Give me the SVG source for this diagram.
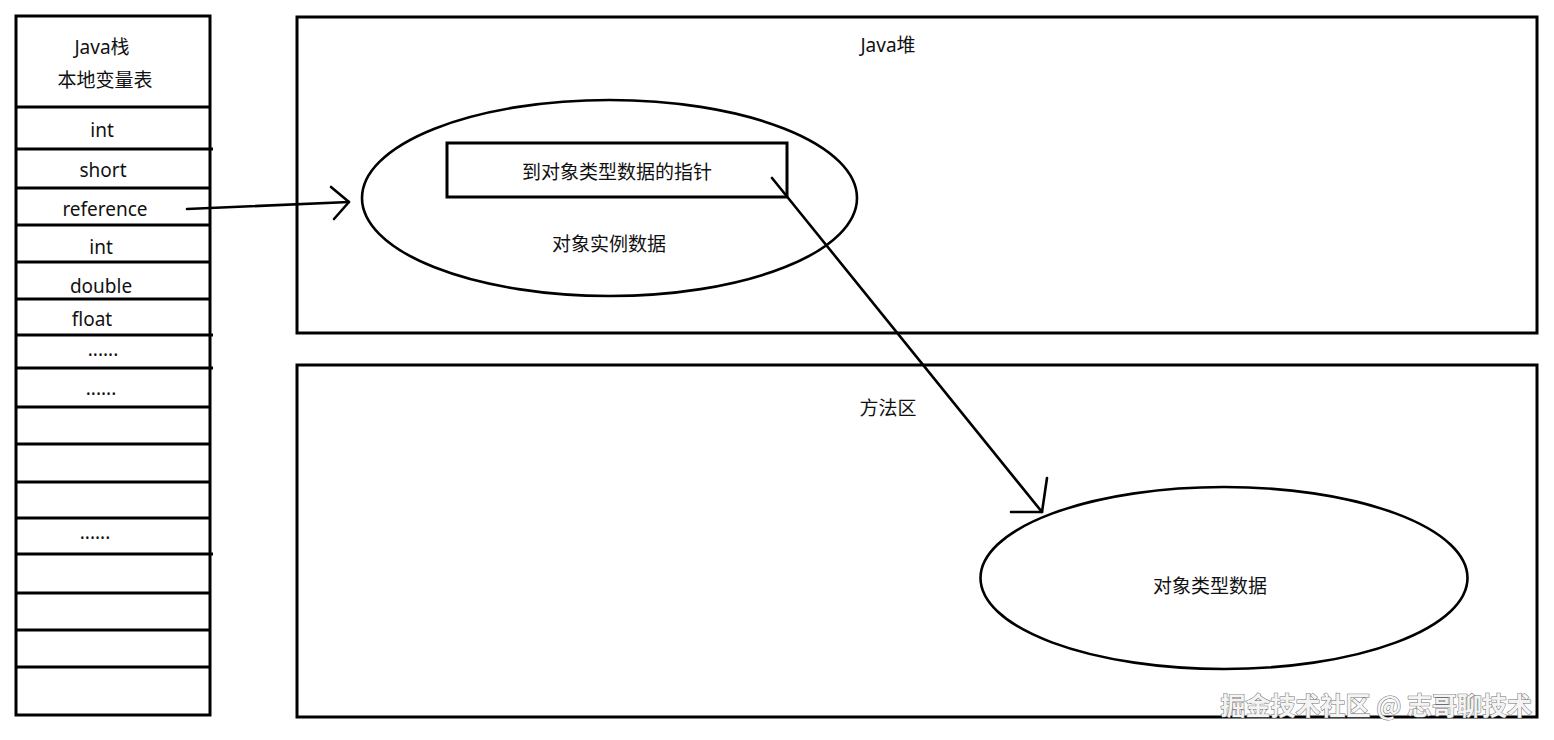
<svg xmlns="http://www.w3.org/2000/svg" width="1554" height="740" viewBox="0 0 1554 740">
<style>
  .box{fill:none;stroke:#000;stroke-width:3}
  .row{stroke:#000;stroke-width:3}
  .shape{fill:none;stroke:#000;stroke-width:2.6}
  .t{font-family:"Noto Sans","Noto Sans CJK SC",sans-serif;font-size:19px;fill:#111;text-anchor:middle;dominant-baseline:central}
  .edge{fill:none;stroke:#000;stroke-width:2.6;stroke-linecap:round;stroke-linejoin:round}
  .wm{font-family:"Noto Sans CJK SC","Noto Sans",sans-serif;font-size:25px;font-weight:bold;fill:#f4f4f4;stroke:#6e6e6e;stroke-width:1;paint-order:stroke;text-anchor:end;dominant-baseline:central}
</style>
<rect width="1554" height="740" fill="#fff"/>
<g id="java-stack">
  <rect class="box" x="16" y="16" width="194" height="699"/>
  <line class="row" x1="16" y1="107" x2="210" y2="107"/>
  <line class="row" x1="16" y1="149" x2="213" y2="149"/>
  <line class="row" x1="16" y1="188" x2="210" y2="188"/>
  <line class="row" x1="16" y1="225" x2="210" y2="225"/>
  <line class="row" x1="16" y1="262" x2="210" y2="262"/>
  <line class="row" x1="16" y1="299" x2="210" y2="299"/>
  <line class="row" x1="16" y1="335" x2="213" y2="335"/>
  <line class="row" x1="16" y1="368" x2="213" y2="368"/>
  <line class="row" x1="16" y1="407" x2="210" y2="407"/>
  <line class="row" x1="16" y1="444" x2="210" y2="444"/>
  <line class="row" x1="16" y1="482" x2="210" y2="482"/>
  <line class="row" x1="16" y1="518" x2="210" y2="518"/>
  <line class="row" x1="16" y1="554" x2="213" y2="554"/>
  <line class="row" x1="16" y1="593" x2="210" y2="593"/>
  <line class="row" x1="16" y1="630" x2="210" y2="630"/>
  <line class="row" x1="16" y1="667" x2="210" y2="667"/>
  <text class="t" x="102" y="47">Java栈</text>
  <text class="t" x="105" y="80">本地变量表</text>
  <text class="t" x="102" y="130">int</text>
  <text class="t" x="103" y="170">short</text>
  <text class="t" x="105" y="209">reference</text>
  <text class="t" x="101" y="247">int</text>
  <text class="t" x="101" y="286">double</text>
  <text class="t" x="92" y="319">float</text>
  <text class="t" x="103" y="349">......</text>
  <text class="t" x="101" y="388">......</text>
  <text class="t" x="95" y="532">......</text>
</g>
<g id="java-heap">
  <rect class="box" x="297" y="17" width="1240" height="316"/>
  <text class="t" x="888" y="45">Java堆</text>
</g>
<g id="object-instance">
  <ellipse class="shape" cx="609.5" cy="198" rx="247.5" ry="98"/>
  <text class="t" x="609" y="244">对象实例数据</text>
</g>
<g id="type-pointer">
  <rect class="box" x="447" y="143" width="340" height="54"/>
  <text class="t" x="617" y="172">到对象类型数据的指针</text>
</g>
<g id="method-area">
  <rect class="box" x="297" y="365" width="1240" height="352"/>
  <text class="t" x="888" y="408">方法区</text>
</g>
<g id="object-type-data">
  <ellipse class="shape" cx="1224" cy="578" rx="243.5" ry="91"/>
  <text class="t" x="1210" y="586">对象类型数据</text>
</g>
<g id="connectors">
  <path class="edge" d="M 187 209 L 349 202"/>
  <path class="edge" d="M 331 187 L 349 202 L 334 219"/>
  <path class="edge" d="M 772 178 L 1042 512"/>
  <path class="edge" d="M 1047 478 L 1042 512 L 1011 512"/>
</g>
<text class="wm" x="1532" y="704">掘金技术社区 @ 志哥聊技术</text>
</svg>
